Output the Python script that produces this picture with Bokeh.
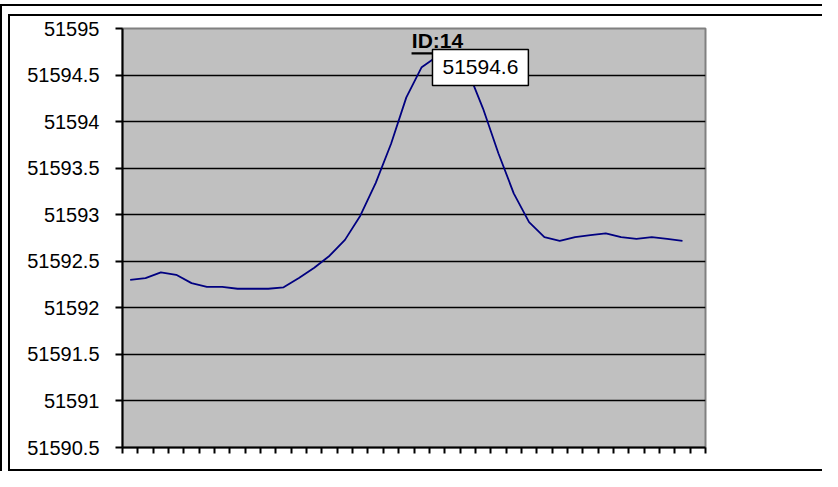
from bokeh.plotting import figure
from bokeh.models import Range1d, FixedTicker, Label, BoxAnnotation
from bokeh.embed import file_html
from bokeh.resources import INLINE

# ---- data ----
categories = list(range(1, 39))          # 38 category slots on the x axis
values = [51592.30, 51592.32, 51592.38, 51592.355, 51592.265, 51592.225,
          51592.225, 51592.205, 51592.205, 51592.205, 51592.22, 51592.32,
          51592.43, 51592.56, 51592.73, 51592.99, 51593.34, 51593.76,
          51594.26, 51594.585, 51594.70, 51594.66, 51594.55, 51594.14,
          51593.66, 51593.23, 51592.92, 51592.76, 51592.72, 51592.76,
          51592.78, 51592.80, 51592.76, 51592.74, 51592.76, 51592.74,
          51592.72]
y_ticks = [51590.5, 51591, 51591.5, 51592, 51592.5, 51593, 51593.5,
           51594, 51594.5, 51595]
title_text = "ID:14"
value_label = "51594.6"

FONT = "Liberation Sans"
W, H = 822, 471

x = [c - 0.5 for c in categories[:len(values)]]

# chart-area frame lines (outer + inner box) painted as CSS background
frame_lines = [  # (left, top, width, height) in px
    (0, 4, 2, H - 4),
    (0, 4, W, 2),
    (8, 14, 2, H - 14),
    (8, 14, W - 8, 2),
    (8, H - 2, W - 8, 2),
]
css = {
    "background-color": "white",
    "background-image": ", ".join(["linear-gradient(#000, #000)"] * len(frame_lines)),
    "background-position": ", ".join(f"{l}px {t}px" for l, t, w, h in frame_lines),
    "background-size": ", ".join(f"{w}px {h}px" for l, t, w, h in frame_lines),
    "background-repeat": "no-repeat",
}

p = figure(width=W, height=H, output_backend="svg", toolbar_location=None,
           x_range=Range1d(0, len(categories)),
           y_range=Range1d(y_ticks[0], y_ticks[-1]),
           min_border_left=122, min_border_right=117,
           min_border_top=28, min_border_bottom=24,
           background_fill_color="#C0C0C0", border_fill_alpha=0,
           outline_line_color="#808080", outline_line_width=2,
           styles=css)

# y axis
ya = p.yaxis[0]
ya.ticker = FixedTicker(ticks=y_ticks)
ya.major_label_overrides = {t: f"{t:g}" for t in y_ticks}
ya.axis_line_color = "black"
ya.axis_line_width = 2
ya.major_tick_line_color = "black"
ya.major_tick_line_width = 2
ya.major_tick_out = 7
ya.major_tick_in = 0
ya.minor_tick_out = 0
ya.minor_tick_in = 0
ya.major_label_standoff = 16
ya.major_label_text_font = FONT
ya.major_label_text_font_size = "20px"
ya.major_label_text_color = "black"

# x axis (ticks only, no labels)
xa = p.xaxis[0]
xa.ticker = FixedTicker(ticks=list(range(0, len(categories) + 1)))
xa.major_label_overrides = {i: "" for i in range(0, len(categories) + 1)}
xa.major_label_text_color = None
xa.axis_line_color = "black"
xa.axis_line_width = 2
xa.major_tick_line_color = "black"
xa.major_tick_line_width = 2
xa.major_tick_out = 6
xa.major_tick_in = 0
xa.minor_tick_out = 0
xa.minor_tick_in = 0
xa.major_label_standoff = 0

# grid
p.xgrid.visible = False
p.ygrid.ticker = FixedTicker(ticks=y_ticks[1:-1])
p.ygrid.grid_line_color = "black"
p.ygrid.grid_line_width = 1.5

# series
p.line(x, values, line_color="#000080", line_width=1.8)

# title inside plot area, bold + underline
p.add_layout(Label(x=20.53, y=51594.869, text=title_text, text_font=FONT,
                   text_font_style="bold", text_font_size="21px",
                   text_align="center", text_baseline="middle",
                   text_color="black"))
p.add_layout(BoxAnnotation(left=18.84, right=22.23, top=51594.744,
                           bottom=51594.722, fill_color="black", fill_alpha=1,
                           line_alpha=0))

# data label box
p.add_layout(Label(x=23.33, y=51594.5815, text=value_label, text_font=FONT,
                   text_font_size="21px", text_align="center",
                   text_baseline="middle", text_color="black",
                   background_fill_color="white", background_fill_alpha=1,
                   border_line_color="black", border_line_width=1.5,
                   padding=(10, 11)))

open("out.html", "w").write(file_html(p, INLINE))
